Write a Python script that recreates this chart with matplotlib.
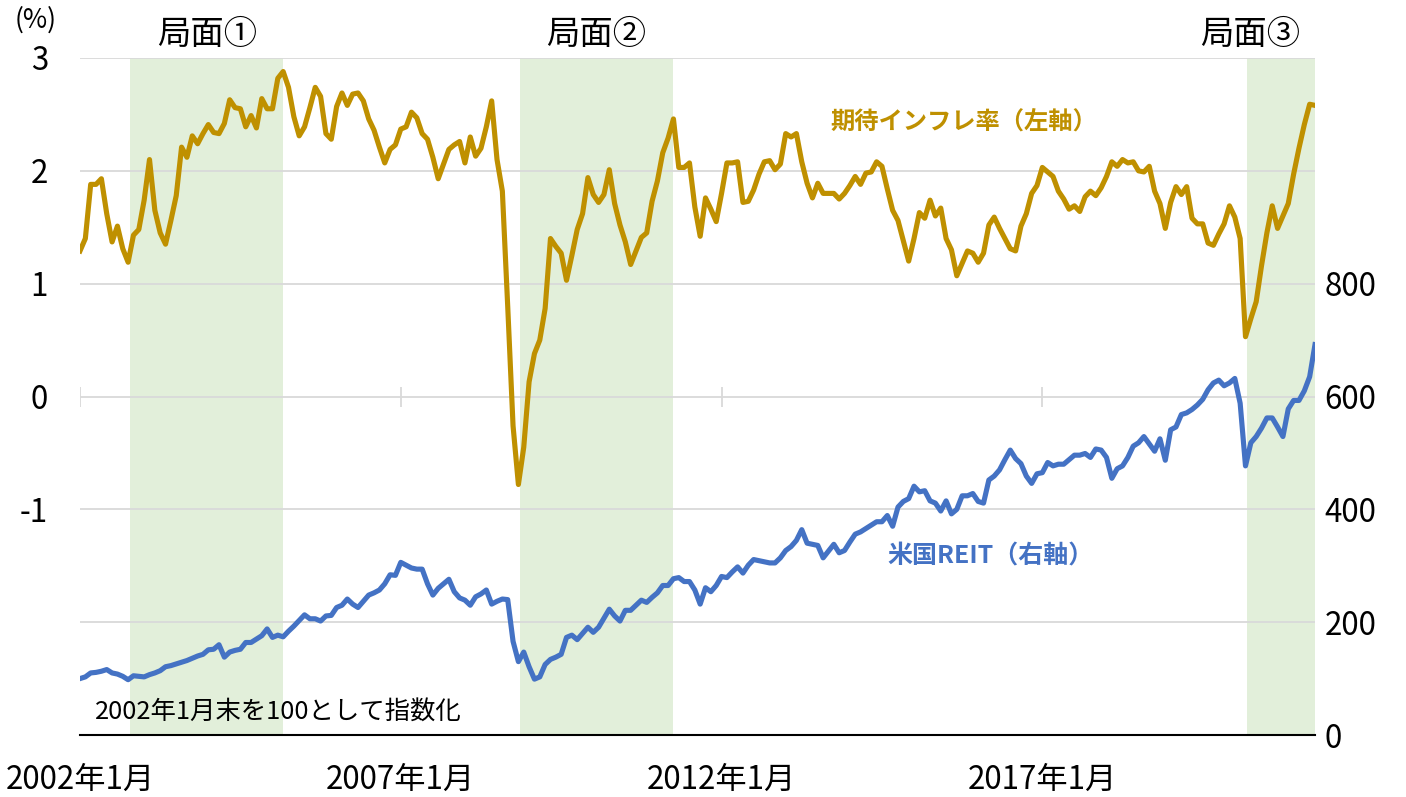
import numpy as np
import matplotlib
matplotlib.use("Agg")
import matplotlib.pyplot as plt
import matplotlib.transforms as mtransforms

plt.rcParams['font.family'] = ['Noto Sans CJK JP', 'DejaVu Sans']

# 月次データ（2002年1月～2021年4月）
infl = [
    1.29, 1.40, 1.88, 1.88, 1.93, 1.62, 1.37, 1.51, 1.31, 1.19,
    1.43, 1.48, 1.74, 2.10, 1.65, 1.45, 1.35, 1.56, 1.78, 2.21,
    2.12, 2.31, 2.24, 2.33, 2.41, 2.34, 2.33, 2.42, 2.63, 2.56,
    2.55, 2.39, 2.49, 2.38, 2.64, 2.55, 2.55, 2.82, 2.88, 2.74,
    2.48, 2.31, 2.39, 2.56, 2.74, 2.66, 2.33, 2.28, 2.57, 2.69,
    2.58, 2.68, 2.69, 2.62, 2.46, 2.36, 2.21, 2.07, 2.19, 2.23,
    2.37, 2.39, 2.52, 2.47, 2.33, 2.28, 2.12, 1.93, 2.06, 2.19,
    2.23, 2.26, 2.07, 2.30, 2.13, 2.20, 2.39, 2.62, 2.10, 1.82,
    0.80, -0.26, -0.78, -0.45, 0.13, 0.38, 0.50, 0.78, 1.40, 1.33,
    1.27, 1.03, 1.25, 1.48, 1.62, 1.94, 1.79, 1.72, 1.79, 2.01,
    1.71, 1.52, 1.37, 1.17, 1.29, 1.41, 1.45, 1.73, 1.91, 2.16,
    2.29, 2.46, 2.03, 2.03, 2.07, 1.68, 1.42, 1.76, 1.66, 1.55,
    1.80, 2.07, 2.07, 2.08, 1.72, 1.73, 1.83, 1.97, 2.08, 2.09,
    2.01, 2.06, 2.33, 2.30, 2.33, 2.08, 1.89, 1.76, 1.89, 1.80,
    1.80, 1.80, 1.75, 1.80, 1.87, 1.95, 1.88, 1.98, 1.99, 2.08,
    2.04, 1.84, 1.65, 1.56, 1.38, 1.20, 1.40, 1.63, 1.58, 1.74,
    1.60, 1.67, 1.40, 1.30, 1.07, 1.18, 1.29, 1.27, 1.19, 1.27,
    1.52, 1.59, 1.49, 1.40, 1.31, 1.29, 1.51, 1.62, 1.80, 1.87,
    2.03, 1.99, 1.95, 1.82, 1.75, 1.66, 1.69, 1.64, 1.77, 1.82,
    1.78, 1.85, 1.95, 2.08, 2.04, 2.10, 2.07, 2.08, 2.00, 1.99,
    2.04, 1.82, 1.71, 1.49, 1.72, 1.86, 1.79, 1.86, 1.58, 1.53,
    1.53, 1.36, 1.34, 1.44, 1.53, 1.69, 1.59, 1.40, 0.53, 0.69,
    0.84, 1.16, 1.45, 1.69, 1.49, 1.60, 1.71, 1.97, 2.20, 2.41,
    2.59, 2.58,
]

reit = [
    100, 103, 110, 111, 113, 116, 110, 108, 104, 98,
    105, 104, 103, 107, 110, 114, 121, 123, 126, 129,
    132, 136, 140, 143, 151, 152, 160, 138, 147, 150,
    152, 164, 164, 170, 176, 188, 173, 177, 174, 184,
    193, 203, 213, 206, 206, 202, 211, 212, 226, 230,
    241, 232, 226, 237, 248, 252, 257, 268, 284, 283,
    306, 301, 296, 294, 294, 268, 248, 260, 268, 276,
    254, 243, 239, 230, 245, 250, 257, 232, 237, 241,
    240, 166, 130, 147, 121, 99, 103, 125, 134, 138,
    143, 173, 177, 169, 180, 191, 182, 191, 207, 223,
    211, 202, 221, 221, 230, 239, 235, 244, 252, 265,
    265, 277, 279, 272, 272, 257, 232, 261, 254, 265,
    281, 279, 289, 298, 287, 301, 311, 309, 307, 305,
    305, 314, 327, 334, 345, 364, 340, 338, 336, 314,
    326, 338, 323, 327, 342, 356, 360, 366, 372, 378,
    378, 389, 370, 404, 414, 419, 441, 431, 433, 415,
    411, 397, 415, 392, 400, 424, 424, 428, 414, 411,
    452, 459, 470, 488, 505, 490, 481, 459, 446, 463,
    465, 483, 477, 480, 480, 488, 496, 496, 499, 492,
    507, 505, 492, 455, 472, 477, 492, 512, 518, 529,
    516, 503, 525, 487, 541, 546, 568, 571, 577, 585,
    595, 612, 624, 629, 619, 624, 632, 588, 477, 518,
    529, 544, 562, 562, 546, 529, 578, 593, 593, 610,
    635, 692,
]

xtick_pos = [0, 60, 120, 180]
xtick_labels = ['2002年1月', '2007年1月', '2012年1月', '2017年1月']

# 局面（月インデックス）
phase_start = [9.35, 82.3, 218.3]
phase_end = [38.0, 110.9, 231.0]
phase_names = ['局面①', '局面②', '局面③']
phase_label_x = [23.7, 96.6, 218.8]

GOLD = '#BF9000'
BLUE = '#4472C4'
GREEN = '#E2EFDA'
GRID = '#D9D9D9'

months = np.arange(len(infl))

fig = plt.figure(figsize=(14.06, 7.97), dpi=100)
ax = fig.add_axes([80 / 1406, 62 / 797, 1235 / 1406, 677 / 797])
ax2 = ax.twinx()

for s, e in zip(phase_start, phase_end):
    ax.axvspan(s, e, color=GREEN, lw=0, zorder=0)

for yv in [-2, -1, 0, 1, 2, 3]:
    ax.axhline(yv, color=GRID, lw=1.3, zorder=1)

# 0線上の目盛り
ax.plot(xtick_pos, [0] * len(xtick_pos), linestyle='none', marker='|',
        markersize=14, mew=1.3, color=GRID, zorder=1)

ax.plot(months, infl, color=GOLD, lw=3.7, zorder=3, solid_joinstyle='round')
ax2.plot(months, reit, color=BLUE, lw=3.7, zorder=3, solid_joinstyle='round')

ax.set_xlim(0, len(infl) - 1)
ax.set_ylim(-3, 3)
ax2.set_ylim(0, 1200)

ax.set_yticks([-1, 0, 1, 2, 3])
ax.set_yticklabels(['-1', '0', '1', '2', '3'])
ax2.set_yticks([0, 200, 400, 600, 800])

ax.set_xticks(xtick_pos)
ax.set_xticklabels(xtick_labels)

ax.tick_params(axis='y', length=0, pad=23, labelsize=22.5)
ax2.tick_params(axis='y', length=0, pad=7, labelsize=22.5)
ax.tick_params(axis='x', length=0, pad=21, labelsize=22.5)

for a in (ax, ax2):
    for sp in ['top', 'left', 'right']:
        a.spines[sp].set_visible(False)
ax.spines['bottom'].set_color('black')
ax.spines['bottom'].set_linewidth(1.5)
ax2.spines['bottom'].set_visible(False)

ax.set_zorder(ax2.get_zorder() - 1)
ax2.patch.set_visible(False)
ax.patch.set_visible(False)

trans = mtransforms.blended_transform_factory(ax.transData, ax.transAxes)
for name, xc in zip(phase_names, phase_label_x):
    ax.text(xc, 1.034, name, transform=trans, ha='center', va='center',
            fontsize=24, color='black')

fig.text(36 / 1406, 1 - 20 / 797, '(%)', ha='center', va='center', fontsize=19)

ax.text(140.3, 2.43, '期待インフレ率（左軸）', color=GOLD, fontsize=17.5,
        fontweight='bold', ha='left', va='center', zorder=5)
ax.text(151.1, -1.42, '米国REIT（右軸）', color=BLUE, fontsize=18,
        fontweight='bold', ha='left', va='center', zorder=5)
ax.text(2.8, -2.79, '2002年1月末を100として指数化', color='black', fontsize=18.3,
        ha='left', va='center', zorder=5)

fig.savefig('out.png', dpi=100)
